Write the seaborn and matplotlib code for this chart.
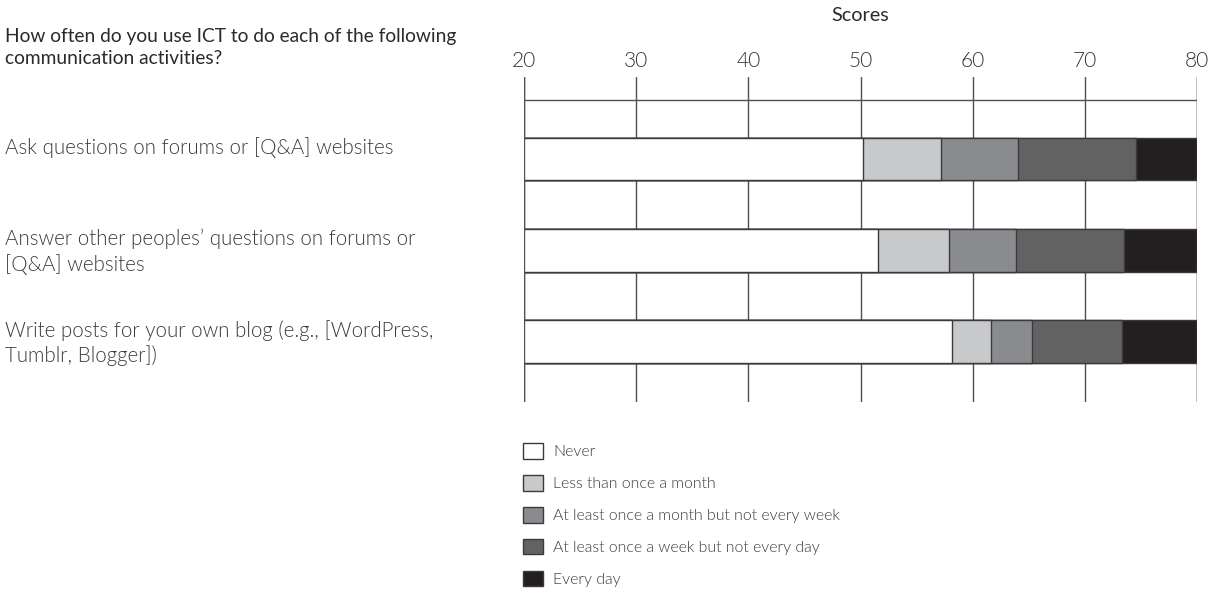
import matplotlib
matplotlib.use("Agg")
import matplotlib.pyplot as plt
from matplotlib.patches import Patch
from matplotlib.transforms import blended_transform_factory
import pandas as pd
import seaborn as sns

# data (segment widths on the score axis, starting at 20)
items = [
    "Ask questions on forums or [Q&A] websites",
    "Answer other peoples\u2019 questions on forums or\n[Q&A] websites",
    "Write posts for your own blog (e.g., [WordPress,\nTumblr, Blogger])",
]
never = [30.2, 31.6, 38.2]
less_monthly = [7.0, 6.3, 3.4]
monthly = [6.8, 6.0, 3.7]
weekly = [10.6, 9.6, 8.0]
daily = [5.4, 6.5, 6.7]
axis_start = 20

categories = ["Never", "Less than once a month",
              "At least once a month but not every week",
              "At least once a week but not every day", "Every day"]
colors = ["#ffffff", "#c8c9cb", "#8a8b8e", "#626263", "#231f20"]
title = "How often do you use ICT to do each of the following\ncommunication activities?"

sns.set_style("white")
plt.rcParams["font.family"] = ["Lato", "DejaVu Sans"]
LIGHT = 300

df = pd.DataFrame({"item": items, "Never": never,
                   "Less than once a month": less_monthly,
                   "At least once a month but not every week": monthly,
                   "At least once a week but not every day": weekly,
                   "Every day": daily})
cum = df[categories].cumsum(axis=1) + axis_start
cum["item"] = df["item"]

fig = plt.figure(figsize=(12.12, 5.93), dpi=100)
ax = fig.add_axes([524 / 1212, 1 - 402 / 593, 673 / 1212, 325 / 593])

edge = "#3a3a3a"
grid_c = "#505050"
bar_w = 0.466
# layered bars, largest cumulative first
for cat, col in reversed(list(zip(categories, colors))):
    sns.barplot(data=cum, x=cat, y="item", orient="h", color=col,
                saturation=1, width=bar_w, errorbar=None,
                edgecolor=edge, linewidth=1, ax=ax)

ax.set_xlim(20, 80)
ax.set_ylim(2.66, -0.90)
ax.set_xticks([20, 30, 40, 50, 60, 70, 80])
ax.xaxis.tick_top()
ax.xaxis.set_label_position("top")
ax.set_xlabel("Scores", fontsize=14.3, fontweight=400, color="#2a2a2a",
              labelpad=22)
ax.tick_params(axis="x", length=0, pad=4, labelsize=15, labelcolor="#333333")
for lab in ax.get_xticklabels():
    lab.set_fontweight(LIGHT)
ax.set_yticks([])
ax.set_ylabel("")
for s in ax.spines.values():
    s.set_visible(False)
ax.set_axisbelow(True)
ax.grid(axis="x", color=grid_c, linewidth=1)
ax.axhline(-0.647, color=grid_c, linewidth=1, zorder=0.6)
ax.axvline(20, color=grid_c, linewidth=1, zorder=5)
ax.axvline(80, color=grid_c, linewidth=1, zorder=5)

trans = blended_transform_factory(fig.transFigure, ax.transData)
for i, it in enumerate(items):
    ax.text(5 / 1212, i - bar_w / 2 - 0.005, it, transform=trans, ha="left",
            va="top", fontsize=14.8, fontweight=LIGHT, color="#3a3a3a",
            linespacing=1.27)

fig.text(5 / 1212, 1 - 28 / 593, title, ha="left", va="top",
         fontsize=13.8, fontweight=400, color="#2a2a2a", linespacing=1.36)

handles = [Patch(facecolor=c, edgecolor=edge, linewidth=1) for c in colors]
leg = fig.legend(handles, categories, loc="upper left",
                 bbox_to_anchor=(523 / 1212, 1 - 443 / 593), frameon=False,
                 fontsize=11.4, handlelength=1.25, handleheight=1.15,
                 handletextpad=0.65, labelspacing=0.99, borderpad=0,
                 borderaxespad=0)
for t in leg.get_texts():
    t.set_fontweight(LIGHT)
    t.set_color("#3a3a3a")

fig.savefig("out.png", dpi=100)
